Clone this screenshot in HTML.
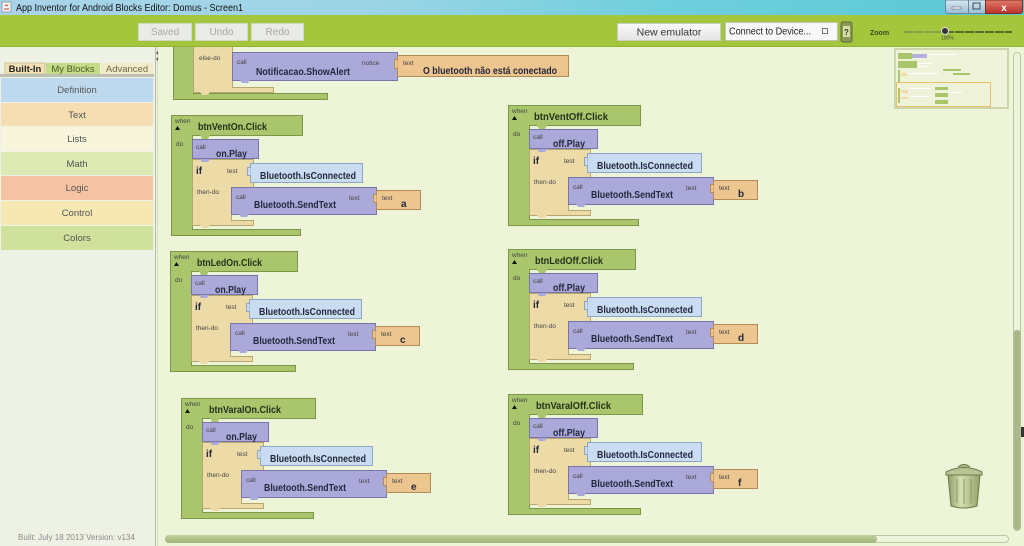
<!DOCTYPE html>
<html><head><meta charset="utf-8"><style>
html,body{margin:0;padding:0;width:1024px;height:546px;overflow:hidden;background:#eef4d7}
svg{display:block}
</style></head><body>
<svg width="1024" height="546" viewBox="0 0 1024 546" xmlns="http://www.w3.org/2000/svg">
<defs>
<linearGradient id="tb" x1="0" x2="1" y1="0" y2="0"><stop offset="0" stop-color="#a9d3ea"/><stop offset="0.35" stop-color="#9dd5e6"/><stop offset="0.65" stop-color="#6fcfdc"/><stop offset="1" stop-color="#5ac8d4"/></linearGradient>
<linearGradient id="wb" x1="0" x2="0" y1="0" y2="1"><stop offset="0" stop-color="#d8e8f2"/><stop offset="1" stop-color="#9cbdd3"/></linearGradient>
<linearGradient id="wc" x1="0" x2="0" y1="0" y2="1"><stop offset="0" stop-color="#e07a6a"/><stop offset="1" stop-color="#b8332a"/></linearGradient>
<linearGradient id="btn" x1="0" x2="0" y1="0" y2="1"><stop offset="0" stop-color="#fafafa"/><stop offset="1" stop-color="#e4e4e4"/></linearGradient>
<linearGradient id="tr" x1="0" x2="1" y1="0" y2="0"><stop offset="0" stop-color="#8e9c64"/><stop offset="0.4" stop-color="#d6dfb4"/><stop offset="1" stop-color="#94a268"/></linearGradient>
<linearGradient id="hs" x1="0" x2="0" y1="0" y2="1"><stop offset="0" stop-color="#c2d1a0"/><stop offset="1" stop-color="#9fb377"/></linearGradient>
<style>
.g{fill:#a9c66c;stroke:#7b9747;stroke-width:1}
.gf{fill:#a9c66c}
.p{fill:#aba9d9;stroke:#7775ab;stroke-width:1}
.pf{fill:#aba9d9}
.t{fill:#ecdba7;stroke:#b9a66f;stroke-width:1}
.tf{fill:#ecdba7}
.c{fill:#c9dcf1;stroke:#8ea6c6;stroke-width:1}
.v{fill:#edc58e;stroke:#b38b55;stroke-width:1}
.s{font-family:"Liberation Sans",sans-serif;font-size:6.5px;fill:#444}
.b{font-family:"Liberation Sans",sans-serif;font-size:10px;font-weight:bold;fill:#24283c}
.h{font-family:"Liberation Sans",sans-serif;font-size:10px;font-weight:bold;fill:#263018}
.pl{font-family:"Liberation Sans",sans-serif;font-size:9.5px;fill:#555;text-anchor:middle}
</style>
</defs>

<!-- canvas -->
<rect x="158" y="47" width="866" height="499" fill="#eef4d7"/>

<!-- top partial block -->
<path class="g" d="M173.5,40V99.5H327.5V93.5H193.5V40Z"/>
<path class="t" d="M193.5,40V92.5H273.5V87.5H232.5V40Z"/>
<rect class="p" x="232.5" y="52.5" width="165" height="28"/>
<path class="pf" d="M240,80h10l-2,3h-6z"/>
<path class="tf" d="M200,92h10l-2,3h-6z"/>
<text class="s" x="199" y="60">else-do</text>
<text class="s" x="237" y="64">call</text>
<text class="b" x="256" y="75" textLength="94" lengthAdjust="spacingAndGlyphs">Notificacao.ShowAlert</text>
<text class="s" x="362" y="65">notice</text>
<rect class="v" x="397.5" y="55.5" width="171" height="21"/>
<path class="v" d="M397.5,59.5h-3v9h3"/>
<text class="s" x="403" y="65">text</text>
<text class="b" x="423" y="74" textLength="134" lengthAdjust="spacingAndGlyphs">O bluetooth não está conectado</text>

<!-- Block 1 -->
<g transform="translate(171,115)">
<path class="g" d="M0.5,0.5H131.5V20.5H21.5V114.5H129.5V120.5H0.5Z"/>
<path class="gf" d="M29,20h10l-2,4h-6z"/>
<text class="s" x="4" y="8">when</text><path d="M4,15L6.5,11L9,15Z" fill="#111"/>
<text class="h" x="27" y="15" textLength="69" lengthAdjust="spacingAndGlyphs">btnVentOn.Click</text>
<text class="s" x="5" y="31">do</text>
<rect class="p" x="21.5" y="24.5" width="66" height="19"/>
<text class="s" x="25" y="34">call</text>
<text class="b" x="45" y="42" textLength="31" lengthAdjust="spacingAndGlyphs">on.Play</text>
<path class="t" d="M21.5,44.5H82.5V72.5H60.5V105.5H82.5V110.5H21.5Z"/>
<path class="pf" d="M29,44h10l-2,3h-6z"/><path class="tf" d="M29,110h10l-2,3h-6z"/>
<text class="b" x="25" y="59">if</text><text class="s" x="56" y="58">test</text><text class="s" x="26" y="79">then-do</text>
<rect class="c" x="79.5" y="48.5" width="112" height="19"/><path class="c" d="M79.5,52.5h-3v8h3"/>
<text class="b" x="89" y="64" textLength="96" lengthAdjust="spacingAndGlyphs">Bluetooth.IsConnected</text>
<rect class="p" x="60.5" y="72.5" width="145" height="27"/><path class="pf" d="M68,99h10l-2,3h-6z"/>
<text class="s" x="65" y="84">call</text>
<text class="b" x="83" y="93" textLength="82" lengthAdjust="spacingAndGlyphs">Bluetooth.SendText</text>
<text class="s" x="178" y="85">text</text>
<rect class="v" x="205.5" y="75.5" width="44" height="19"/><path class="v" d="M205.5,79.5h-3v8h3"/>
<text class="s" x="211" y="85">text</text><text class="b" x="230" y="92">a</text>
</g>

<!-- Block 2 -->
<g transform="translate(508,105)">
<path class="g" d="M0.5,0.5H132.5V20.5H21.5V114.5H130.5V120.5H0.5Z"/>
<path class="gf" d="M29,20h10l-2,4h-6z"/>
<text class="s" x="4" y="8">when</text><path d="M4,15L6.5,11L9,15Z" fill="#111"/>
<text class="h" x="26" y="15" textLength="74" lengthAdjust="spacingAndGlyphs">btnVentOff.Click</text>
<text class="s" x="5" y="31">do</text>
<rect class="p" x="21.5" y="24.5" width="68" height="19"/>
<text class="s" x="25" y="34">call</text>
<text class="b" x="45" y="42" textLength="32" lengthAdjust="spacingAndGlyphs">off.Play</text>
<path class="t" d="M21.5,44.5H82.5V72.5H60.5V105.5H82.5V110.5H21.5Z"/>
<path class="pf" d="M29,44h10l-2,3h-6z"/><path class="tf" d="M29,110h10l-2,3h-6z"/>
<text class="b" x="25" y="59">if</text><text class="s" x="56" y="58">test</text><text class="s" x="26" y="79">then-do</text>
<rect class="c" x="79.5" y="48.5" width="114" height="19"/><path class="c" d="M79.5,52.5h-3v8h3"/>
<text class="b" x="89" y="64" textLength="96" lengthAdjust="spacingAndGlyphs">Bluetooth.IsConnected</text>
<rect class="p" x="60.5" y="72.5" width="145" height="27"/><path class="pf" d="M68,99h10l-2,3h-6z"/>
<text class="s" x="65" y="84">call</text>
<text class="b" x="83" y="93" textLength="82" lengthAdjust="spacingAndGlyphs">Bluetooth.SendText</text>
<text class="s" x="178" y="85">text</text>
<rect class="v" x="205.5" y="75.5" width="44" height="19"/><path class="v" d="M205.5,79.5h-3v8h3"/>
<text class="s" x="211" y="85">text</text><text class="b" x="230" y="92">b</text>
</g>

<!-- Block 3 -->
<g transform="translate(170,251)">
<path class="g" d="M0.5,0.5H127.5V20.5H21.5V114.5H125.5V120.5H0.5Z"/>
<path class="gf" d="M29,20h10l-2,4h-6z"/>
<text class="s" x="4" y="8">when</text><path d="M4,15L6.5,11L9,15Z" fill="#111"/>
<text class="h" x="27" y="15" textLength="65" lengthAdjust="spacingAndGlyphs">btnLedOn.Click</text>
<text class="s" x="5" y="31">do</text>
<rect class="p" x="21.5" y="24.5" width="66" height="19"/>
<text class="s" x="25" y="34">call</text>
<text class="b" x="45" y="42" textLength="31" lengthAdjust="spacingAndGlyphs">on.Play</text>
<path class="t" d="M21.5,44.5H82.5V72.5H60.5V105.5H82.5V110.5H21.5Z"/>
<path class="pf" d="M29,44h10l-2,3h-6z"/><path class="tf" d="M29,110h10l-2,3h-6z"/>
<text class="b" x="25" y="59">if</text><text class="s" x="56" y="58">test</text><text class="s" x="26" y="79">then-do</text>
<rect class="c" x="79.5" y="48.5" width="112" height="19"/><path class="c" d="M79.5,52.5h-3v8h3"/>
<text class="b" x="89" y="64" textLength="96" lengthAdjust="spacingAndGlyphs">Bluetooth.IsConnected</text>
<rect class="p" x="60.5" y="72.5" width="145" height="27"/><path class="pf" d="M68,99h10l-2,3h-6z"/>
<text class="s" x="65" y="84">call</text>
<text class="b" x="83" y="93" textLength="82" lengthAdjust="spacingAndGlyphs">Bluetooth.SendText</text>
<text class="s" x="178" y="85">text</text>
<rect class="v" x="205.5" y="75.5" width="44" height="19"/><path class="v" d="M205.5,79.5h-3v8h3"/>
<text class="s" x="211" y="85">text</text><text class="b" x="230" y="92">c</text>
</g>

<!-- Block 4 -->
<g transform="translate(508,249)">
<path class="g" d="M0.5,0.5H127.5V20.5H21.5V114.5H125.5V120.5H0.5Z"/>
<path class="gf" d="M29,20h10l-2,4h-6z"/>
<text class="s" x="4" y="8">when</text><path d="M4,15L6.5,11L9,15Z" fill="#111"/>
<text class="h" x="27" y="15" textLength="68" lengthAdjust="spacingAndGlyphs">btnLedOff.Click</text>
<text class="s" x="5" y="31">do</text>
<rect class="p" x="21.5" y="24.5" width="68" height="19"/>
<text class="s" x="25" y="34">call</text>
<text class="b" x="45" y="42" textLength="32" lengthAdjust="spacingAndGlyphs">off.Play</text>
<path class="t" d="M21.5,44.5H82.5V72.5H60.5V105.5H82.5V110.5H21.5Z"/>
<path class="pf" d="M29,44h10l-2,3h-6z"/><path class="tf" d="M29,110h10l-2,3h-6z"/>
<text class="b" x="25" y="59">if</text><text class="s" x="56" y="58">test</text><text class="s" x="26" y="79">then-do</text>
<rect class="c" x="79.5" y="48.5" width="114" height="19"/><path class="c" d="M79.5,52.5h-3v8h3"/>
<text class="b" x="89" y="64" textLength="96" lengthAdjust="spacingAndGlyphs">Bluetooth.IsConnected</text>
<rect class="p" x="60.5" y="72.5" width="145" height="27"/><path class="pf" d="M68,99h10l-2,3h-6z"/>
<text class="s" x="65" y="84">call</text>
<text class="b" x="83" y="93" textLength="82" lengthAdjust="spacingAndGlyphs">Bluetooth.SendText</text>
<text class="s" x="178" y="85">text</text>
<rect class="v" x="205.5" y="75.5" width="44" height="19"/><path class="v" d="M205.5,79.5h-3v8h3"/>
<text class="s" x="211" y="85">text</text><text class="b" x="230" y="92">d</text>
</g>

<!-- Block 5 -->
<g transform="translate(181,398)">
<path class="g" d="M0.5,0.5H134.5V20.5H21.5V114.5H132.5V120.5H0.5Z"/>
<path class="gf" d="M29,20h10l-2,4h-6z"/>
<text class="s" x="4" y="8">when</text><path d="M4,15L6.5,11L9,15Z" fill="#111"/>
<text class="h" x="28" y="15" textLength="72" lengthAdjust="spacingAndGlyphs">btnVaralOn.Click</text>
<text class="s" x="5" y="31">do</text>
<rect class="p" x="21.5" y="24.5" width="66" height="19"/>
<text class="s" x="25" y="34">call</text>
<text class="b" x="45" y="42" textLength="31" lengthAdjust="spacingAndGlyphs">on.Play</text>
<path class="t" d="M21.5,44.5H82.5V72.5H60.5V105.5H82.5V110.5H21.5Z"/>
<path class="pf" d="M29,44h10l-2,3h-6z"/><path class="tf" d="M29,110h10l-2,3h-6z"/>
<text class="b" x="25" y="59">if</text><text class="s" x="56" y="58">test</text><text class="s" x="26" y="79">then-do</text>
<rect class="c" x="79.5" y="48.5" width="112" height="19"/><path class="c" d="M79.5,52.5h-3v8h3"/>
<text class="b" x="89" y="64" textLength="96" lengthAdjust="spacingAndGlyphs">Bluetooth.IsConnected</text>
<rect class="p" x="60.5" y="72.5" width="145" height="27"/><path class="pf" d="M68,99h10l-2,3h-6z"/>
<text class="s" x="65" y="84">call</text>
<text class="b" x="83" y="93" textLength="82" lengthAdjust="spacingAndGlyphs">Bluetooth.SendText</text>
<text class="s" x="178" y="85">text</text>
<rect class="v" x="205.5" y="75.5" width="44" height="19"/><path class="v" d="M205.5,79.5h-3v8h3"/>
<text class="s" x="211" y="85">text</text><text class="b" x="230" y="92">e</text>
</g>

<!-- Block 6 -->
<g transform="translate(508,394)">
<path class="g" d="M0.5,0.5H134.5V20.5H21.5V114.5H132.5V120.5H0.5Z"/>
<path class="gf" d="M29,20h10l-2,4h-6z"/>
<text class="s" x="4" y="8">when</text><path d="M4,15L6.5,11L9,15Z" fill="#111"/>
<text class="h" x="28" y="15" textLength="75" lengthAdjust="spacingAndGlyphs">btnVaralOff.Click</text>
<text class="s" x="5" y="31">do</text>
<rect class="p" x="21.5" y="24.5" width="68" height="19"/>
<text class="s" x="25" y="34">call</text>
<text class="b" x="45" y="42" textLength="32" lengthAdjust="spacingAndGlyphs">off.Play</text>
<path class="t" d="M21.5,44.5H82.5V72.5H60.5V105.5H82.5V110.5H21.5Z"/>
<path class="pf" d="M29,44h10l-2,3h-6z"/><path class="tf" d="M29,110h10l-2,3h-6z"/>
<text class="b" x="25" y="59">if</text><text class="s" x="56" y="58">test</text><text class="s" x="26" y="79">then-do</text>
<rect class="c" x="79.5" y="48.5" width="114" height="19"/><path class="c" d="M79.5,52.5h-3v8h3"/>
<text class="b" x="89" y="64" textLength="96" lengthAdjust="spacingAndGlyphs">Bluetooth.IsConnected</text>
<rect class="p" x="60.5" y="72.5" width="145" height="27"/><path class="pf" d="M68,99h10l-2,3h-6z"/>
<text class="s" x="65" y="84">call</text>
<text class="b" x="83" y="93" textLength="82" lengthAdjust="spacingAndGlyphs">Bluetooth.SendText</text>
<text class="s" x="178" y="85">text</text>
<rect class="v" x="205.5" y="75.5" width="44" height="19"/><path class="v" d="M205.5,79.5h-3v8h3"/>
<text class="s" x="211" y="85">text</text><text class="b" x="230" y="92">f</text>
</g>

<!-- minimap -->
<rect x="895" y="49" width="113" height="59" fill="#eef3da" stroke="#cdd5ad" stroke-width="2"/>
<rect x="898" y="53" width="14" height="6" fill="#a9c66c"/>
<rect x="912" y="54" width="15" height="4" fill="#b3b1e0"/>
<rect x="927" y="54" width="30" height="1" fill="#fff"/>
<rect x="898" y="61" width="19" height="7" fill="#a9c66c"/>
<rect x="918" y="63" width="14" height="1" fill="#fff"/><rect x="918" y="66" width="10" height="1" fill="#fff"/>
<rect x="943" y="69" width="18" height="2" fill="#a9c66c"/>
<rect x="953" y="73" width="17" height="2" fill="#a9c66c"/>
<rect x="898" y="70" width="2" height="12" fill="#a9c66c"/>
<rect x="901" y="73" width="6" height="3" fill="#f2d9a8"/>
<rect x="908" y="73" width="30" height="1" fill="#fff"/>
<rect x="935" y="87" width="13" height="3" fill="#a9c66c"/>
<rect x="935" y="93" width="13" height="4" fill="#a9c66c"/>
<rect x="935" y="100" width="13" height="4" fill="#a9c66c"/>
<rect x="898" y="88" width="2" height="15" fill="#a9c66c"/>
<rect x="901" y="90" width="7" height="3" fill="#f2d9a8"/><rect x="901" y="97" width="7" height="2" fill="#f2d9a8"/>
<rect x="910" y="88" width="20" height="1" fill="#fff"/><rect x="910" y="96" width="18" height="1" fill="#fff"/><rect x="950" y="92" width="12" height="1" fill="#fff"/>
<rect x="896.5" y="82.5" width="94" height="24" fill="none" stroke="#e8c265" stroke-width="1"/>

<!-- vertical scrollbar -->
<rect x="1013.5" y="52.5" width="7" height="478" rx="3.5" fill="#eef3dc" stroke="#bcc5a2"/>
<rect x="1013.5" y="330" width="7" height="200" rx="3" fill="#a9b98a"/>
<rect x="1021" y="427" width="3" height="10" fill="#333"/>

<!-- horizontal scrollbar -->
<rect x="165.5" y="535.5" width="843" height="7" rx="3.5" fill="#eef3dc" stroke="#bcc5a2"/>
<rect x="165" y="535" width="712" height="8" rx="4" fill="url(#hs)"/>

<!-- trash -->
<path d="M958,467q6,-5 12,0" fill="#a9b586" stroke="#6c7a45"/>
<path d="M946,472q18,-9 36,0v3h-36z" fill="#b9c596" stroke="#6c7a45"/>
<path d="M948,475L951,506Q964,510 977,506L980,475Z" fill="url(#tr)" stroke="#6c7a45"/>
<path d="M957,479V503M964,479V504M971,479V503" stroke="#8d9b63" stroke-width="1"/>

<!-- left panel -->
<rect x="0" y="47" width="156" height="499" fill="#eef2e5"/>
<line x1="155.5" y1="47" x2="155.5" y2="546" stroke="#b5bba6"/>
<line x1="157.5" y1="47" x2="157.5" y2="546" stroke="#d8dccb"/>
<path d="M158,51l-2,2l2,2z M158,57l-2,2l2,2z" fill="#555"/>
<rect x="5" y="63" width="40" height="11" fill="#f4e0b5" stroke="#c9b98f" stroke-width="0.8"/>
<rect x="46" y="63" width="54" height="11" fill="#c4db8a"/>
<rect x="101" y="63" width="52" height="11" fill="#f2ebc8"/>
<text x="25" y="72" text-anchor="middle" font-family="Liberation Sans, sans-serif" font-size="9.5" font-weight="bold" fill="#222">Built-In</text>
<text x="73" y="72" text-anchor="middle" font-family="Liberation Sans, sans-serif" font-size="9.5" fill="#4b5e21">My Blocks</text>
<text x="127" y="72" text-anchor="middle" font-family="Liberation Sans, sans-serif" font-size="9.5" fill="#6a6a50">Advanced</text>
<rect x="0" y="74" width="154" height="3" fill="#bcc0b2"/>
<rect x="1" y="78" width="152" height="24" fill="#bed9ee"/>
<rect x="1" y="103" width="152" height="23" fill="#f6ddb2"/>
<rect x="1" y="127" width="152" height="24" fill="#f8f5dc"/>
<rect x="1" y="152" width="152" height="23" fill="#dce9b2"/>
<rect x="1" y="176" width="152" height="24" fill="#f5c3a3"/>
<rect x="1" y="201" width="152" height="24" fill="#f6e8b3"/>
<rect x="1" y="226" width="152" height="24" fill="#d0e19c"/>
<text class="pl" x="77" y="93">Definition</text>
<text class="pl" x="77" y="118">Text</text>
<text class="pl" x="77" y="142">Lists</text>
<text class="pl" x="77" y="167">Math</text>
<text class="pl" x="77" y="191">Logic</text>
<text class="pl" x="77" y="216">Control</text>
<text class="pl" x="77" y="241">Colors</text>
<text x="18" y="540" font-family="Liberation Sans, sans-serif" font-size="8.5" fill="#8a8a8a" textLength="117" lengthAdjust="spacingAndGlyphs">Built: July 18 2013 Version: v134</text>

<!-- toolbar -->
<rect x="0" y="15" width="1024" height="32" fill="#a4c63c"/>
<rect x="0" y="46" width="1024" height="1" fill="#93b233"/>
<rect x="138.5" y="23.5" width="53" height="17" fill="#e9ebe6" stroke="#d2d6c6"/>
<rect x="195.5" y="23.5" width="52" height="17" fill="#e9ebe6" stroke="#d2d6c6"/>
<rect x="251.5" y="23.5" width="52" height="17" fill="#e9ebe6" stroke="#d2d6c6"/>
<text x="165" y="35" text-anchor="middle" font-family="Liberation Sans, sans-serif" font-size="10" fill="#a8a8a8">Saved</text>
<text x="221.5" y="35" text-anchor="middle" font-family="Liberation Sans, sans-serif" font-size="10" fill="#a8a8a8">Undo</text>
<text x="277.5" y="35" text-anchor="middle" font-family="Liberation Sans, sans-serif" font-size="10" fill="#a8a8a8">Redo</text>
<rect x="617.5" y="23.5" width="103" height="17" fill="url(#btn)" stroke="#c9cdc0"/>
<text x="669" y="35.5" text-anchor="middle" font-family="Liberation Sans, sans-serif" font-size="10.5" fill="#333">New emulator</text>
<rect x="725.5" y="22.5" width="112" height="18" fill="#f8f8f8" stroke="#bfc3b5"/>
<text x="729" y="34.5" font-family="Liberation Sans, sans-serif" font-size="10.5" fill="#222" textLength="82" lengthAdjust="spacingAndGlyphs">Connect to Device...</text>
<rect x="822.5" y="28.5" width="5" height="5" fill="none" stroke="#555" stroke-width="0.8"/>
<rect x="841" y="22" width="11" height="20" rx="2" fill="#8a9858" stroke="#5d6a33"/>
<rect x="843" y="26" width="7" height="11" fill="#d6df9f"/>
<text x="846.5" y="35" text-anchor="middle" font-family="Liberation Sans, sans-serif" font-size="8" font-weight="bold" fill="#333">?</text>
<text x="870" y="35" font-family="Liberation Sans, sans-serif" font-size="7" font-weight="bold" fill="#3a4a1a">Zoom</text>
<line x1="904" y1="32" x2="945" y2="32" stroke="#7f9446" stroke-width="1.5" stroke-dasharray="9,1"/>
<line x1="945" y1="32" x2="1012" y2="32" stroke="#3f4d22" stroke-width="1.5" stroke-dasharray="9,1"/>
<circle cx="945" cy="31" r="3.5" fill="#333" stroke="#ddd" stroke-width="1"/>
<text x="941" y="39.5" font-family="Liberation Sans, sans-serif" font-size="5" fill="#444">100%</text>

<!-- title bar -->
<rect x="0" y="0" width="1024" height="15" fill="url(#tb)"/>
<rect x="2" y="2" width="9" height="10" fill="#f2f2f2" stroke="#7a7a7a" stroke-width="0.6"/>
<path d="M4,9h5M5,6q2,-2 3,0" stroke="#c44" stroke-width="1" fill="none"/>
<text x="16" y="11" font-family="Liberation Sans, sans-serif" font-size="10" fill="#111" textLength="227" lengthAdjust="spacingAndGlyphs">App Inventor for Android Blocks Editor: Domus - Screen1</text>
<path d="M945.5,0V10.5Q945.5,13.5 948.5,13.5H985.5V0Z" fill="url(#wb)" stroke="#6a879c"/>
<line x1="968.5" y1="0" x2="968.5" y2="13" stroke="#6a879c"/>
<rect x="952" y="7" width="9" height="2" fill="#fff" stroke="#3a4a5a" stroke-width="0.5"/>
<rect x="973" y="3" width="7" height="6" fill="none" stroke="#3a4a5a" stroke-width="1"/>
<path d="M985.5,0V13.5H1019.5Q1022.5,13.5 1022.5,10.5V0Z" fill="url(#wc)" stroke="#7a2a22"/>
<text x="1004" y="11" text-anchor="middle" font-family="Liberation Sans, sans-serif" font-size="10" font-weight="bold" fill="#fff">x</text>
</svg>
</body></html>
